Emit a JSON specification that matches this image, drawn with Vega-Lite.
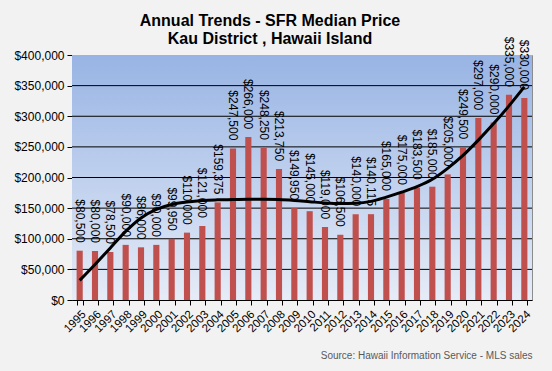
{
  "$schema": "https://vega.github.io/schema/vega-lite/v6.json",
  "autosize": {"type": "none"},
  "padding": {"left": 72, "top": 55, "right": 20, "bottom": 71},
  "width": 460,
  "height": 245,
  "background": "#f2f2f2",
  "view": {"stroke": "#8c8c8c", "strokeWidth": 1},
  "title": {
    "text": ["Annual  Trends - SFR Median Price", "Kau District , Hawaii Island"],
    "font": "Liberation Sans",
    "fontSize": 16,
    "fontWeight": "bold",
    "color": "#000000",
    "lineHeight": 18,
    "anchor": "middle",
    "dx": -32,
    "dy": 20,
    "offset": 10
  },
  "config": {
    "axis": {
      "labelFont": "Liberation Sans",
      "titleFont": "Liberation Sans",
      "labelColor": "#000000",
      "tickColor": "#000000",
      "domainColor": "#000000"
    },
    "axisY": {"labelOverlap": false, "labelFontSize": 12, "tickSize": 5, "labelPadding": 3, "grid": false, "title": null},
    "axisX": {"labelOverlap": false, "labelFontSize": 11.5, "tickSize": 5, "labelPadding": 3, "labelAngle": -45}
  },
  "datasets": {
    "prices": [
      {"year": "1995", "price": 80500, "trend": 32000},
      {"year": "1996", "price": 80000, "trend": 58000},
      {"year": "1997", "price": 78500, "trend": 85000},
      {"year": "1998", "price": 90000, "trend": 112000},
      {"year": "1999", "price": 86000, "trend": 134000},
      {"year": "2000", "price": 90000, "trend": 148000},
      {"year": "2001", "price": 99950, "trend": 156000},
      {"year": "2002", "price": 110000, "trend": 160000},
      {"year": "2003", "price": 121000, "trend": 162500},
      {"year": "2004", "price": 159375, "trend": 163500},
      {"year": "2005", "price": 247500, "trend": 164000},
      {"year": "2006", "price": 266000, "trend": 164500},
      {"year": "2007", "price": 248250, "trend": 164500},
      {"year": "2008", "price": 213750, "trend": 164000},
      {"year": "2009", "price": 149950, "trend": 162500},
      {"year": "2010", "price": 145000, "trend": 160500},
      {"year": "2011", "price": 119000, "trend": 158500},
      {"year": "2012", "price": 106500, "trend": 157500},
      {"year": "2013", "price": 140000, "trend": 158000},
      {"year": "2014", "price": 140115, "trend": 161000},
      {"year": "2015", "price": 165000, "trend": 168000},
      {"year": "2016", "price": 175000, "trend": 176000},
      {"year": "2017", "price": 183500, "trend": 185000},
      {"year": "2018", "price": 185000, "trend": 197000},
      {"year": "2019", "price": 205000, "trend": 215000},
      {"year": "2020", "price": 249500, "trend": 236000},
      {"year": "2021", "price": 297000, "trend": 261000},
      {"year": "2022", "price": 290000, "trend": 288000},
      {"year": "2023", "price": 335000, "trend": 317000},
      {"year": "2024", "price": 330000, "trend": 348000}
    ],
    "panel": [{"top": 400000, "bottom": 0}],
    "grid": [
      {"level": 50000}, {"level": 100000}, {"level": 150000}, {"level": 200000},
      {"level": 250000}, {"level": 300000}, {"level": 350000}
    ]
  },
  "layer": [
    {
      "data": {"name": "panel"},
      "mark": {
        "type": "rect",
        "fill": {
          "gradient": "linear",
          "x1": 0, "y1": 0, "x2": 0, "y2": 1,
          "stops": [
            {"offset": 0, "color": "#98b4e4"},
            {"offset": 1, "color": "#e6ecf7"}
          ]
        }
      },
      "encoding": {
        "y": {
          "field": "top",
          "type": "quantitative",
          "scale": {"domain": [0, 400000], "nice": false},
          "axis": {"values": [0, 50000, 100000, 150000, 200000, 250000, 300000, 350000, 400000], "format": "$,.0f", "title": null}
        },
        "y2": {"field": "bottom"}
      }
    },
    {
      "data": {"name": "grid"},
      "mark": {"type": "rule", "color": "#000000", "strokeWidth": 1},
      "encoding": {
        "y": {
          "field": "level",
          "type": "quantitative",
          "axis": {"values": [0, 50000, 100000, 150000, 200000, 250000, 300000, 350000, 400000], "format": "$,.0f", "title": null}
        }
      }
    },
    {
      "data": {"name": "prices"},
      "mark": {"type": "bar", "color": "#c0504d"},
      "encoding": {
        "x": {
          "field": "year",
          "type": "ordinal",
          "scale": {"paddingInner": 0.6, "paddingOuter": 0.3},
          "axis": {
            "title": "Source:  Hawaii Information Service - MLS sales",
            "titleAnchor": "end",
            "titleFontSize": 10,
            "titleFontWeight": "normal",
            "titleColor": "#595959",
            "titlePadding": 16,
            "tickBand": "extent"
          }
        },
        "y": {
          "field": "price",
          "type": "quantitative",
          "axis": {"values": [0, 50000, 100000, 150000, 200000, 250000, 300000, 350000, 400000], "format": "$,.0f", "title": null}
        }
      }
    },
    {
      "data": {"name": "prices"},
      "mark": {
        "type": "text",
        "angle": 90,
        "align": "right",
        "baseline": "middle",
        "dx": -8,
        "font": "Liberation Sans",
        "fontSize": 12,
        "color": "#000000"
      },
      "encoding": {
        "x": {
          "field": "year",
          "type": "ordinal",
          "axis": {
            "title": "Source:  Hawaii Information Service - MLS sales",
            "titleAnchor": "end",
            "titleFontSize": 10,
            "titleFontWeight": "normal",
            "titleColor": "#595959",
            "titlePadding": 16,
            "tickBand": "extent"
          }
        },
        "y": {
          "field": "price",
          "type": "quantitative",
          "axis": {"values": [0, 50000, 100000, 150000, 200000, 250000, 300000, 350000, 400000], "format": "$,.0f", "title": null}
        },
        "text": {"field": "price", "type": "quantitative", "format": "$,.0f"}
      }
    },
    {
      "data": {"name": "prices"},
      "mark": {"type": "line", "color": "#000000", "strokeWidth": 3, "interpolate": "monotone"},
      "encoding": {
        "x": {
          "field": "year",
          "type": "ordinal",
          "axis": {
            "title": "Source:  Hawaii Information Service - MLS sales",
            "titleAnchor": "end",
            "titleFontSize": 10,
            "titleFontWeight": "normal",
            "titleColor": "#595959",
            "titlePadding": 16,
            "tickBand": "extent"
          }
        },
        "y": {
          "field": "trend",
          "type": "quantitative",
          "axis": {"values": [0, 50000, 100000, 150000, 200000, 250000, 300000, 350000, 400000], "format": "$,.0f", "title": null}
        }
      }
    }
  ]
}
